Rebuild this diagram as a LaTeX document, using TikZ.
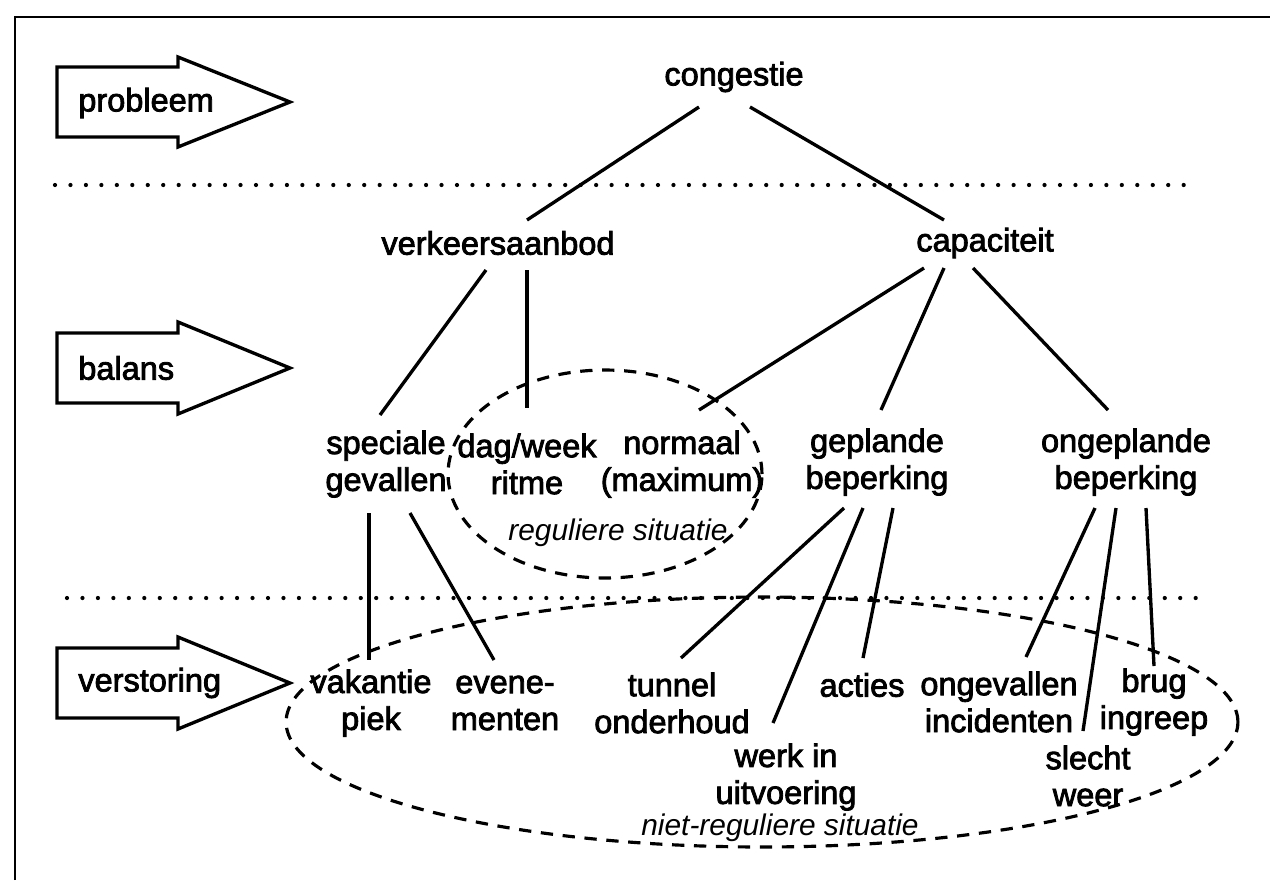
\documentclass[tikz,border=0pt]{standalone}
\usepackage{fontspec}
\setmainfont{Liberation Sans}
\newfontfamily\wordfont{Liberation Sans}[FakeBold=2.5]
\usepackage{tikz}
\usetikzlibrary{calc}
\tikzstyle{word} = [font=\wordfont\fontsize{18.5}{21}\selectfont, align=center, inner sep=0pt]
\tikzstyle{situ} = [font=\itshape\fontsize{17}{20}\selectfont, inner sep=0pt]
\tikzstyle{link} = [line width=1.9pt]
\tikzstyle{phase} = [line width=1.9pt, line join=miter]
\tikzstyle{levelline} = [line width=2.4pt, line cap=round, dash pattern=on 0pt off 8.8pt]
\tikzstyle{ringline} = [line width=1.8pt, dash pattern=on 7pt off 5.5pt]

\begin{document}
\begin{tikzpicture}[x=0.02cm, y=-0.02cm]
    \useasboundingbox (0,0) rectangle (1270,880);
    % frame
    \draw [line width=1.6pt] (15,880) -- (15,17) -- (1270,17);
    % phase arrows
    \draw [phase] (57,67) -- (178,67) -- (178,57) -- (290,102) -- (178,147) -- (178,137) -- (57,137) -- cycle;
    \draw [phase] (57,333) -- (178,333) -- (178,322) -- (290,368) -- (178,414) -- (178,403) -- (57,403) -- cycle;
    \draw [phase] (57,648) -- (178,648) -- (178,637) -- (290,683) -- (178,729) -- (178,718) -- (57,718) -- cycle;
    \node (probl) [word, anchor=west] at (78,103) {probleem};
    \node (bal) [word, anchor=west] at (78,368) {balans};
    \node (verst) [word, anchor=west] at (78,683) {verstoring};
    % level separators
    \draw [levelline] (55,185) -- (1197,185);
    \draw [levelline] (67,598) -- (1205,598);
    % groups
    \draw [ringline] (605,474) ellipse [x radius=3.14cm, y radius=2.08cm];
    \draw [ringline] (762,722) ellipse [x radius=9.52cm, y radius=2.5cm];
    % tree
    \node (cong) [word] at (734,77) {congestie};
    \node (verk) [word] at (498,243) {verkeersaanbod};
    \node (capa) [word] at (985,243) {capaciteit};
    \node (spec) [word] at (386,464) {speciale\\gevallen};
    \node (dag) [word] at (527,464) {dag/week\\ritme};
    \node (norm) [word] at (682,464) {normaal\\(maximum)};
    \node (gepl) [word] at (877,462) {geplande\\beperking};
    \node (onge) [word] at (1126,462) {ongeplande\\beperking};
    \node (regsit) [situ] at (618,533) {reguliere situatie};
    \node (vak) [word] at (371,703) {vakantie\\piek};
    \node (even) [word] at (505,703) {evene-\\menten};
    \node (tunnel) [word] at (672,703) {tunnel\\onderhoud};
    \node (werk) [word] at (786,777) {werk in\\uitvoering};
    \node (acties) [word] at (862,685) {acties};
    \node (ongev) [word] at (999,702) {ongevallen\\incidenten};
    \node (slecht) [word] at (1088,776) {slecht\\weer};
    \node (brug) [word] at (1154,702) {brug\\ingreep};
    \node (nregsit) [situ] at (780,828) {niet-reguliere situatie};
    \draw [link] ($(cong)+(-35,30)$) -- ($(verk)+(29,-23)$);
    \draw [link] ($(cong)+(16,30)$) -- ($(capa)+(-41,-23)$);
    \draw [link] ($(verk)+(-12,27)$) -- ($(spec)+(-6,-49)$);
    \draw [link] ($(verk)+(29,27)$) -- ($(dag)+(0,-56)$);
    \draw [link] ($(capa)+(-61,25)$) -- ($(norm)+(17,-54)$);
    \draw [link] ($(capa)+(-41,25)$) -- ($(gepl)+(4,-52)$);
    \draw [link] ($(capa)+(-12,25)$) -- ($(onge)+(-18,-52)$);
    \draw [link] ($(spec)+(-17,49)$) -- ($(vak)+(-2,-43)$);
    \draw [link] ($(spec)+(24,49)$) -- ($(even)+(-11,-43)$);
    \draw [link] ($(gepl)+(-33,46)$) -- ($(tunnel)+(9,-45)$);
    \draw [link] ($(gepl)+(-14,46)$) -- ($(werk)+(-13,-54)$);
    \draw [link] ($(gepl)+(16,46)$) -- ($(acties)+(1,-27)$);
    \draw [link] ($(onge)+(-31,46)$) -- ($(ongev)+(27,-45)$);
    \draw [link] ($(onge)+(-10,46)$) -- ($(slecht)+(-5,-45)$);
    \draw [link] ($(onge)+(20,46)$) -- ($(brug)+(0,-36)$);
\end{tikzpicture}
\end{document}
